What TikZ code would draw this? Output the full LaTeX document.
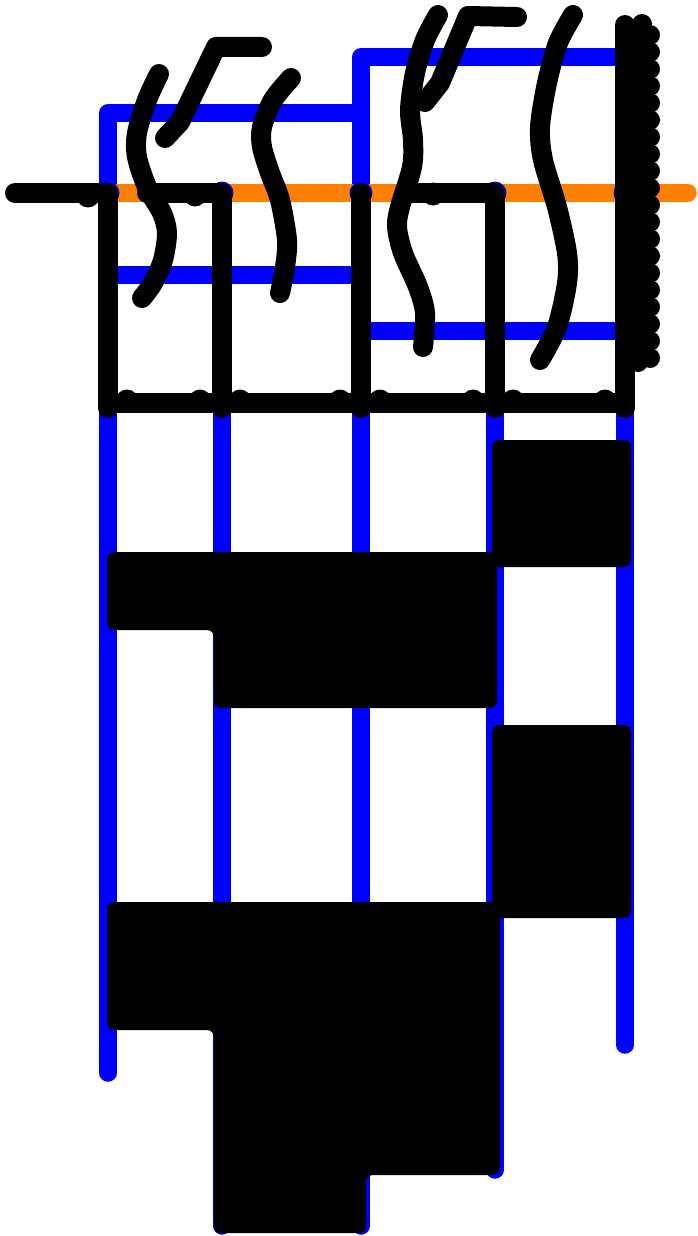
\documentclass[tikz,border=0pt]{standalone}
\usepackage{tikz}

\definecolor{wireblue}{RGB}{0,0,255}
\definecolor{wireorange}{RGB}{255,128,0}

\begin{document}
\begin{tikzpicture}[x=1pt, y=-1pt, line cap=round, line join=round,
  bluewire/.style={draw=wireblue, line width=17.5pt},
  orangewire/.style={draw=wireorange, line width=17.5pt},
  strand/.style={draw=black, line width=20pt},
  blob/.style={fill=black, rounded corners=7pt}]

\useasboundingbox (0,0) rectangle (697,1236);

% junctions on the orange line
\coordinate (j1) at (108,193);
\coordinate (j2) at (222,193);
\coordinate (j3) at (361,193);
\coordinate (j4) at (495,193);
\coordinate (j5) at (625,193);

% blue frame and rungs
\draw[bluewire] (108,1073) -- (108,113) -- (361,113);
\draw[bluewire] (361,1226) -- (361,57) -- (625,57) -- (625,1045);
\draw[bluewire] (j2) -- (222,1226);
\draw[bluewire] (j4) -- (495,1170);
\draw[bluewire] (108,275) -- (361,275);
\draw[bluewire] (361,331) -- (625,331);

% orange line, blue dots on top of it
\draw[orangewire] (j1) -- (688,193);
\fill[wireblue] (j1) circle (11.5pt);
\fill[wireblue] (j2) circle (11.5pt);
\fill[wireblue] (j3) circle (11.5pt);
\fill[wireblue] (j4) circle (11.5pt);
\fill[wireblue] (j5) circle (11.5pt);

% black boxes hanging from the orange line
\draw[strand] (15,193) -- (j1) -- (108,408);
\draw[strand] (147,193) -- (j2) -- (222,408);
\draw[strand] (j3) -- (361,408);
\draw[strand] (405,193) -- (j4) -- (495,408);
\draw[strand] (108,403) -- (625,403);
\draw[strand] (625,25) -- (625,408);

% little lumps where strokes overlap
\fill (88,196) circle (11.5pt);
\fill (195,195) circle (11.5pt);
\fill (433,194) circle (11.5pt);
\foreach \x in {127,200,240,340,380,473,513,605}
  \fill (\x,401) circle (11.5pt);

% wavy strands
\draw[strand] plot[smooth] coordinates {(159,74) (147,100) (137,133) (137,157) (147,187) (162,213) (167,233) (163,260) (153,283) (142,298)};
\draw[strand] plot[smooth] coordinates {(291,78) (273,100) (262,127) (262,147) (270,173) (280,200) (287,240) (285,267) (280,293)};
\draw[strand] plot[smooth] coordinates {(438,15) (425,40) (415,73) (410,110) (413,140) (412,167) (400,207) (397,227) (403,253) (418,287) (425,313) (423,347)};
\draw[strand] plot[smooth] coordinates {(573,15) (558,43) (547,83) (540,127) (543,160) (557,207) (567,253) (567,283) (557,327) (540,360)};

% hooks
\draw[strand] (165,138) -- (180,122) -- (216,47) -- (262,47);
\draw[strand] (425,102) -- (440,83) -- (468,16) -- (517,17);

% beaded column on the right
\draw[strand] (638,28) -- (638,362);
\fill (642,24) circle (10pt);
\foreach \y in {35,52,...,358}
  \fill (650,\y) circle (10pt);

% solid blocks
\fill[blob] (492,440) -- (631,440) -- (631,567) -- (492,567) -- cycle;
\fill[blob] (107,552) -- (497,552) -- (497,708) -- (214,708) -- (214,630) -- (107,630) -- cycle;
\fill[blob] (492,725) -- (631,725) -- (631,918) -- (492,918) -- cycle;
\fill[blob] (107,902) -- (500,902) -- (500,1175) -- (366,1175) -- (366,1233) -- (214,1233) -- (214,1030) -- (107,1030) -- cycle;

\end{tikzpicture}
\end{document}
